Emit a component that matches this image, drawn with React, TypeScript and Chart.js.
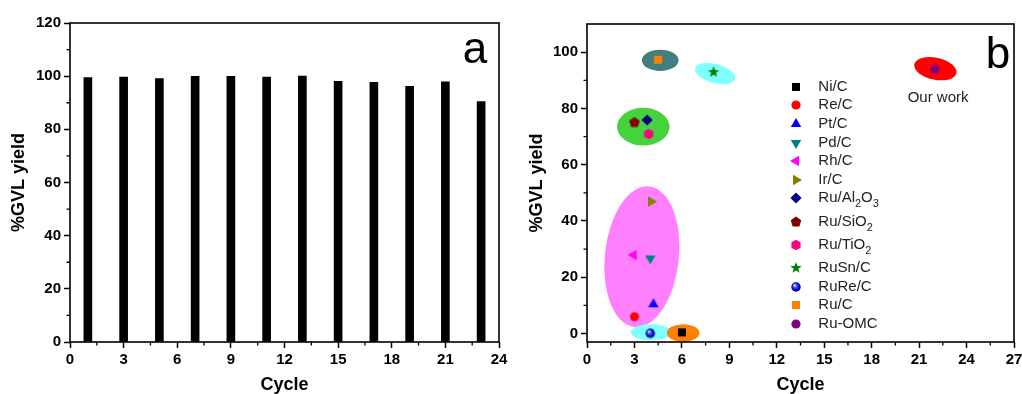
import React, { useEffect, useRef } from 'react';
import { Chart, registerables } from 'chart.js';

Chart.register(...registerables);

const FONT = "'Liberation Sans', Arial, Helvetica, sans-serif";

// ---------- Panel a: recycling ----------
const cycleNumbers = [1, 3, 5, 7, 9, 11, 13, 15, 17, 19, 21, 23];
const gvlYieldA = [99.5, 99.7, 99.1, 99.9, 99.9, 99.7, 100, 98.1, 97.7, 96.2, 97.9, 90.4];
const aXTicks = [0, 3, 6, 9, 12, 15, 18, 21, 24];
const aXMinor = [1.5, 4.5, 7.5, 10.5, 13.5, 16.5, 19.5, 22.5];
const aYTicks = [0, 20, 40, 60, 80, 100, 120];
const aYMinor = [10, 30, 50, 70, 90, 110];

// ---------- Panel b: catalyst comparison ----------
const catalystNames = ['Ni/C', 'Re/C', 'Pt/C', 'Pd/C', 'Rh/C', 'Ir/C', 'Ru/Al_2O_3', 'Ru/SiO_2', 'Ru/TiO_2', 'RuSn/C', 'RuRe/C', 'Ru/C', 'Ru-OMC'];
const catalystCycle = [6.0, 3.0, 4.2, 4.0, 2.95, 4.05, 3.8, 3.0, 3.9, 8.0, 4.0, 4.5, 22.0];
const catalystYield = [0.4, 6.0, 10.4, 26.7, 27.9, 46.9, 75.9, 75.0, 70.9, 92.9, 0.1, 97.3, 93.9];
const catalystShapes = ['square', 'circle', 'triUp', 'triDown', 'triLeft', 'triRight', 'diamond', 'pentagon', 'hexagon', 'star', 'sphere', 'square', 'circle'];
const catalystColors = ['#000000', '#ff0000', '#0000ff', '#008080', '#ff00ff', '#808000', '#000080', '#800000', '#ff0080', '#008000', '#0000c0', '#ff8000', '#800080'];
const bXTicks = [0, 3, 6, 9, 12, 15, 18, 21, 24, 27];
const bXMinor = [1.5, 4.5, 7.5, 10.5, 13.5, 16.5, 19.5, 22.5, 25.5];
const bYTicks = [0, 20, 40, 60, 80, 100];
const bYMinor = [10, 30, 50, 70, 90];

// highlight groups (ellipses) in data units
const groupCycle = [4.63, 8.1, 3.56, 3.47, 4.05, 6.08, 22.03];
const groupYield = [97.1, 92.4, 73.5, 27.3, 0.45, 0.2, 94.1];
const groupHalfWidth = [1.16, 1.3, 1.66, 2.34, 1.28, 1.03, 1.36];
const groupHalfHeight = [3.78, 3.36, 6.7, 25.1, 2.9, 3.1, 3.9];
const groupTilt = [0, 15, 0, 6, 0, 0, 12];
const groupColors = ['#437d7d', '#80ffff', '#46d23c', '#ff80ff', '#80ffff', '#ff8000', '#ff0000'];

const ourWorkText = 'Our work';
const ourWorkAt = { x: 22.2, y: 83.8 };

function makeMarker(shape: string, color: string): HTMLCanvasElement {
  const dim = 16;
  const c = document.createElement('canvas');
  c.width = dim;
  c.height = dim;
  const ctx = c.getContext('2d')!;
  const cx = dim / 2;
  const cy = dim / 2;
  const poly = (n: number, r: number, startDeg: number) => {
    ctx.beginPath();
    for (let i = 0; i < n; i++) {
      const a = (startDeg + (360 / n) * i) * Math.PI / 180;
      const px = cx + r * Math.cos(a);
      const py = cy + r * Math.sin(a);
      if (i === 0) ctx.moveTo(px, py); else ctx.lineTo(px, py);
    }
    ctx.closePath();
  };
  ctx.fillStyle = color;
  switch (shape) {
    case 'square':
      ctx.beginPath();
      ctx.rect(cx - 4, cy - 4, 8, 8);
      break;
    case 'circle':
      ctx.beginPath();
      ctx.arc(cx, cy, 4.6, 0, Math.PI * 2);
      break;
    case 'triUp': poly(3, 6, -90); break;
    case 'triDown': poly(3, 6, 90); break;
    case 'triLeft': poly(3, 6, 180); break;
    case 'triRight': poly(3, 6, 0); break;
    case 'diamond': poly(4, 5.6, -90); break;
    case 'pentagon': poly(5, 5.6, -90); break;
    case 'hexagon': poly(6, 5.3, -90); break;
    case 'star': {
      ctx.beginPath();
      for (let i = 0; i < 10; i++) {
        const r = i % 2 === 0 ? 6 : 2.5;
        const a = (-90 + 36 * i) * Math.PI / 180;
        const px = cx + r * Math.cos(a);
        const py = cy + r * Math.sin(a);
        if (i === 0) ctx.moveTo(px, py); else ctx.lineTo(px, py);
      }
      ctx.closePath();
      break;
    }
    case 'sphere': {
      const g = ctx.createRadialGradient(cx - 1.5, cy - 1.8, 0.3, cx, cy, 4.8);
      g.addColorStop(0, '#ffffff');
      g.addColorStop(0.3, '#5a5aff');
      g.addColorStop(0.75, color);
      g.addColorStop(1, '#000050');
      ctx.fillStyle = g;
      ctx.beginPath();
      ctx.arc(cx, cy, 4.7, 0, Math.PI * 2);
      break;
    }
  }
  ctx.fill();
  return c;
}

function axisOpts(kind: 'x' | 'y', min: number, max: number, ticks: number[], titleText: string, size: number, titlePad: any) {
  return {
    type: 'linear',
    min,
    max,
    offset: false,
    afterBuildTicks: (s: any) => {
      s.ticks = ticks.map((v) => ({ value: v }));
    },
    afterFit: (s: any) => {
      if (kind === 'x') {
        s.height = size;
        s.paddingLeft = 0;
        s.paddingRight = 0;
      } else {
        s.width = size;
        s.paddingTop = 0;
        s.paddingBottom = 0;
      }
    },
    grid: {
      display: true,
      drawOnChartArea: false,
      drawTicks: true,
      tickLength: 6,
      tickColor: '#000',
      tickWidth: 1.5,
      offset: false,
    },
    border: { display: false },
    ticks: {
      color: '#000',
      font: { family: FONT, size: 15, weight: 'bold' },
      padding: 3,
      maxRotation: 0,
      autoSkip: false,
    },
    title: {
      display: true,
      text: titleText,
      color: '#000',
      font: { family: FONT, size: 18, weight: 'bold', lineHeight: 1 },
      padding: titlePad,
    },
  };
}

function framePlugin(id: string, minorX: number[], minorY: number[], letter: string, dx: number, dy: number) {
  return {
    id,
    afterDraw(chart: any) {
      const { ctx, chartArea, scales } = chart;
      const { left, right, top, bottom } = chartArea;
      ctx.save();
      ctx.strokeStyle = '#000';
      ctx.lineWidth = 1.6;
      ctx.strokeRect(left, top, right - left, bottom - top);
      ctx.lineWidth = 1.3;
      ctx.beginPath();
      minorX.forEach((v) => {
        const px = scales.x.getPixelForValue(v);
        ctx.moveTo(px, bottom);
        ctx.lineTo(px, bottom + 3.5);
      });
      minorY.forEach((v) => {
        const py = scales.y.getPixelForValue(v);
        ctx.moveTo(left, py);
        ctx.lineTo(left - 3.5, py);
      });
      ctx.stroke();
      ctx.fillStyle = '#000';
      ctx.font = `44px ${FONT}`;
      ctx.textAlign = 'center';
      ctx.textBaseline = 'alphabetic';
      ctx.fillText(letter, right + dx, top + dy);
      ctx.restore();
    },
  };
}

const ellipsePlugin = {
  id: 'groupEllipses',
  beforeDatasetsDraw(chart: any) {
    const { ctx, chartArea, scales } = chart;
    const { x, y } = scales;
    ctx.save();
    ctx.beginPath();
    ctx.rect(chartArea.left, chartArea.top, chartArea.right - chartArea.left, chartArea.bottom - chartArea.top);
    ctx.clip();
    groupCycle.forEach((gx, i) => {
      const px = x.getPixelForValue(gx);
      const py = y.getPixelForValue(groupYield[i]);
      const rx = Math.abs(x.getPixelForValue(gx + groupHalfWidth[i]) - px);
      const ry = Math.abs(y.getPixelForValue(groupYield[i] + groupHalfHeight[i]) - py);
      ctx.fillStyle = groupColors[i];
      ctx.beginPath();
      ctx.ellipse(px, py, rx, ry, (groupTilt[i] * Math.PI) / 180, 0, Math.PI * 2);
      ctx.fill();
    });
    ctx.restore();
  },
};

function drawRichText(ctx: CanvasRenderingContext2D, text: string, x: number, y: number) {
  const parts = text.split(/(_\d)/);
  let cx = x;
  for (const p of parts) {
    if (!p) continue;
    if (p.startsWith('_')) {
      ctx.font = `11px ${FONT}`;
      ctx.fillText(p.slice(1), cx, y + 6);
      cx += ctx.measureText(p.slice(1)).width;
    } else {
      ctx.font = `15px ${FONT}`;
      ctx.fillText(p, cx, y);
      cx += ctx.measureText(p).width;
    }
  }
}

function legendPlugin(markers: HTMLCanvasElement[]) {
  return {
    id: 'catalystLegend',
    afterDraw(chart: any) {
      const { ctx, chartArea, scales } = chart;
      ctx.save();
      ctx.fillStyle = '#222';
      ctx.textAlign = 'left';
      ctx.textBaseline = 'middle';
      const mx = chartArea.left + 209.3;
      const tx = chartArea.left + 231.3;
      let ry = chartArea.top + 62.7;
      catalystNames.forEach((name, i) => {
        const m = markers[i];
        ctx.drawImage(m, Math.round(mx - m.width / 2), Math.round(ry - m.height / 2));
        drawRichText(ctx, name, tx, ry);
        ry += 18.6 + (name.includes('_') ? 4.6 : 0);
      });
      ctx.font = `15px ${FONT}`;
      ctx.textAlign = 'center';
      ctx.fillText(ourWorkText, scales.x.getPixelForValue(ourWorkAt.x), scales.y.getPixelForValue(ourWorkAt.y));
      ctx.restore();
    },
  };
}

export default function App() {
  const refA = useRef<HTMLCanvasElement>(null);
  const refB = useRef<HTMLCanvasElement>(null);

  useEffect(() => {
    Chart.defaults.font.family = FONT;
    Chart.defaults.color = '#000';

    const chartA = new Chart(refA.current!, {
      type: 'bar',
      data: {
        datasets: [
          {
            data: cycleNumbers.map((c, i) => ({ x: c, y: gvlYieldA[i] })),
            backgroundColor: '#000',
            borderWidth: 0,
            barThickness: 8,
          },
        ],
      },
      options: {
        animation: false,
        responsive: false,
        devicePixelRatio: 1,
        events: [],
        layout: { padding: { top: 23, right: 21, left: 0, bottom: 0 } },
        plugins: { legend: { display: false }, tooltip: { enabled: false } },
        scales: {
          x: axisOpts('x', 0, 24, aXTicks, 'Cycle', 52, { top: 0, bottom: 0 }),
          y: axisOpts('y', 0, 120, aYTicks, '%GVL yield', 70, { top: 10.5, bottom: 0 }),
        },
      } as any,
      plugins: [framePlugin('frameA', aXMinor, aYMinor, 'a', -24, 40)],
    });

    const markers = catalystNames.map((_, i) => makeMarker(catalystShapes[i], catalystColors[i]));

    const chartB = new Chart(refB.current!, {
      type: 'scatter',
      data: {
        datasets: catalystNames.map((name, i) => ({
          label: name,
          data: [{ x: catalystCycle[i], y: catalystYield[i] }],
          pointStyle: markers[i],
          pointRadius: 5,
          backgroundColor: catalystColors[i],
          borderWidth: 0,
        })),
      },
      options: {
        animation: false,
        responsive: false,
        devicePixelRatio: 1,
        events: [],
        layout: { padding: { top: 24, right: 8, left: 0, bottom: 0 } },
        plugins: { legend: { display: false }, tooltip: { enabled: false } },
        scales: {
          x: axisOpts('x', 0, 27, bXTicks, 'Cycle', 52, { top: 0, bottom: 0 }),
          y: axisOpts('y', -3, 110, bYTicks, '%GVL yield', 67, { top: 8, bottom: 0 }),
        },
      } as any,
      plugins: [ellipsePlugin, framePlugin('frameB', bXMinor, bYMinor, 'b', -16, 44), legendPlugin(markers)],
    });

    return () => {
      chartA.destroy();
      chartB.destroy();
    };
  }, []);

  return (
    <div style={{ position: 'absolute', left: 0, top: 0, width: 1022, height: 394, background: '#fff', overflow: 'hidden' }}>
      <canvas ref={refA} width={520} height={394} style={{ position: 'absolute', left: 0, top: 0 }} />
      <canvas ref={refB} width={502} height={394} style={{ position: 'absolute', left: 520, top: 0 }} />
    </div>
  );
}
